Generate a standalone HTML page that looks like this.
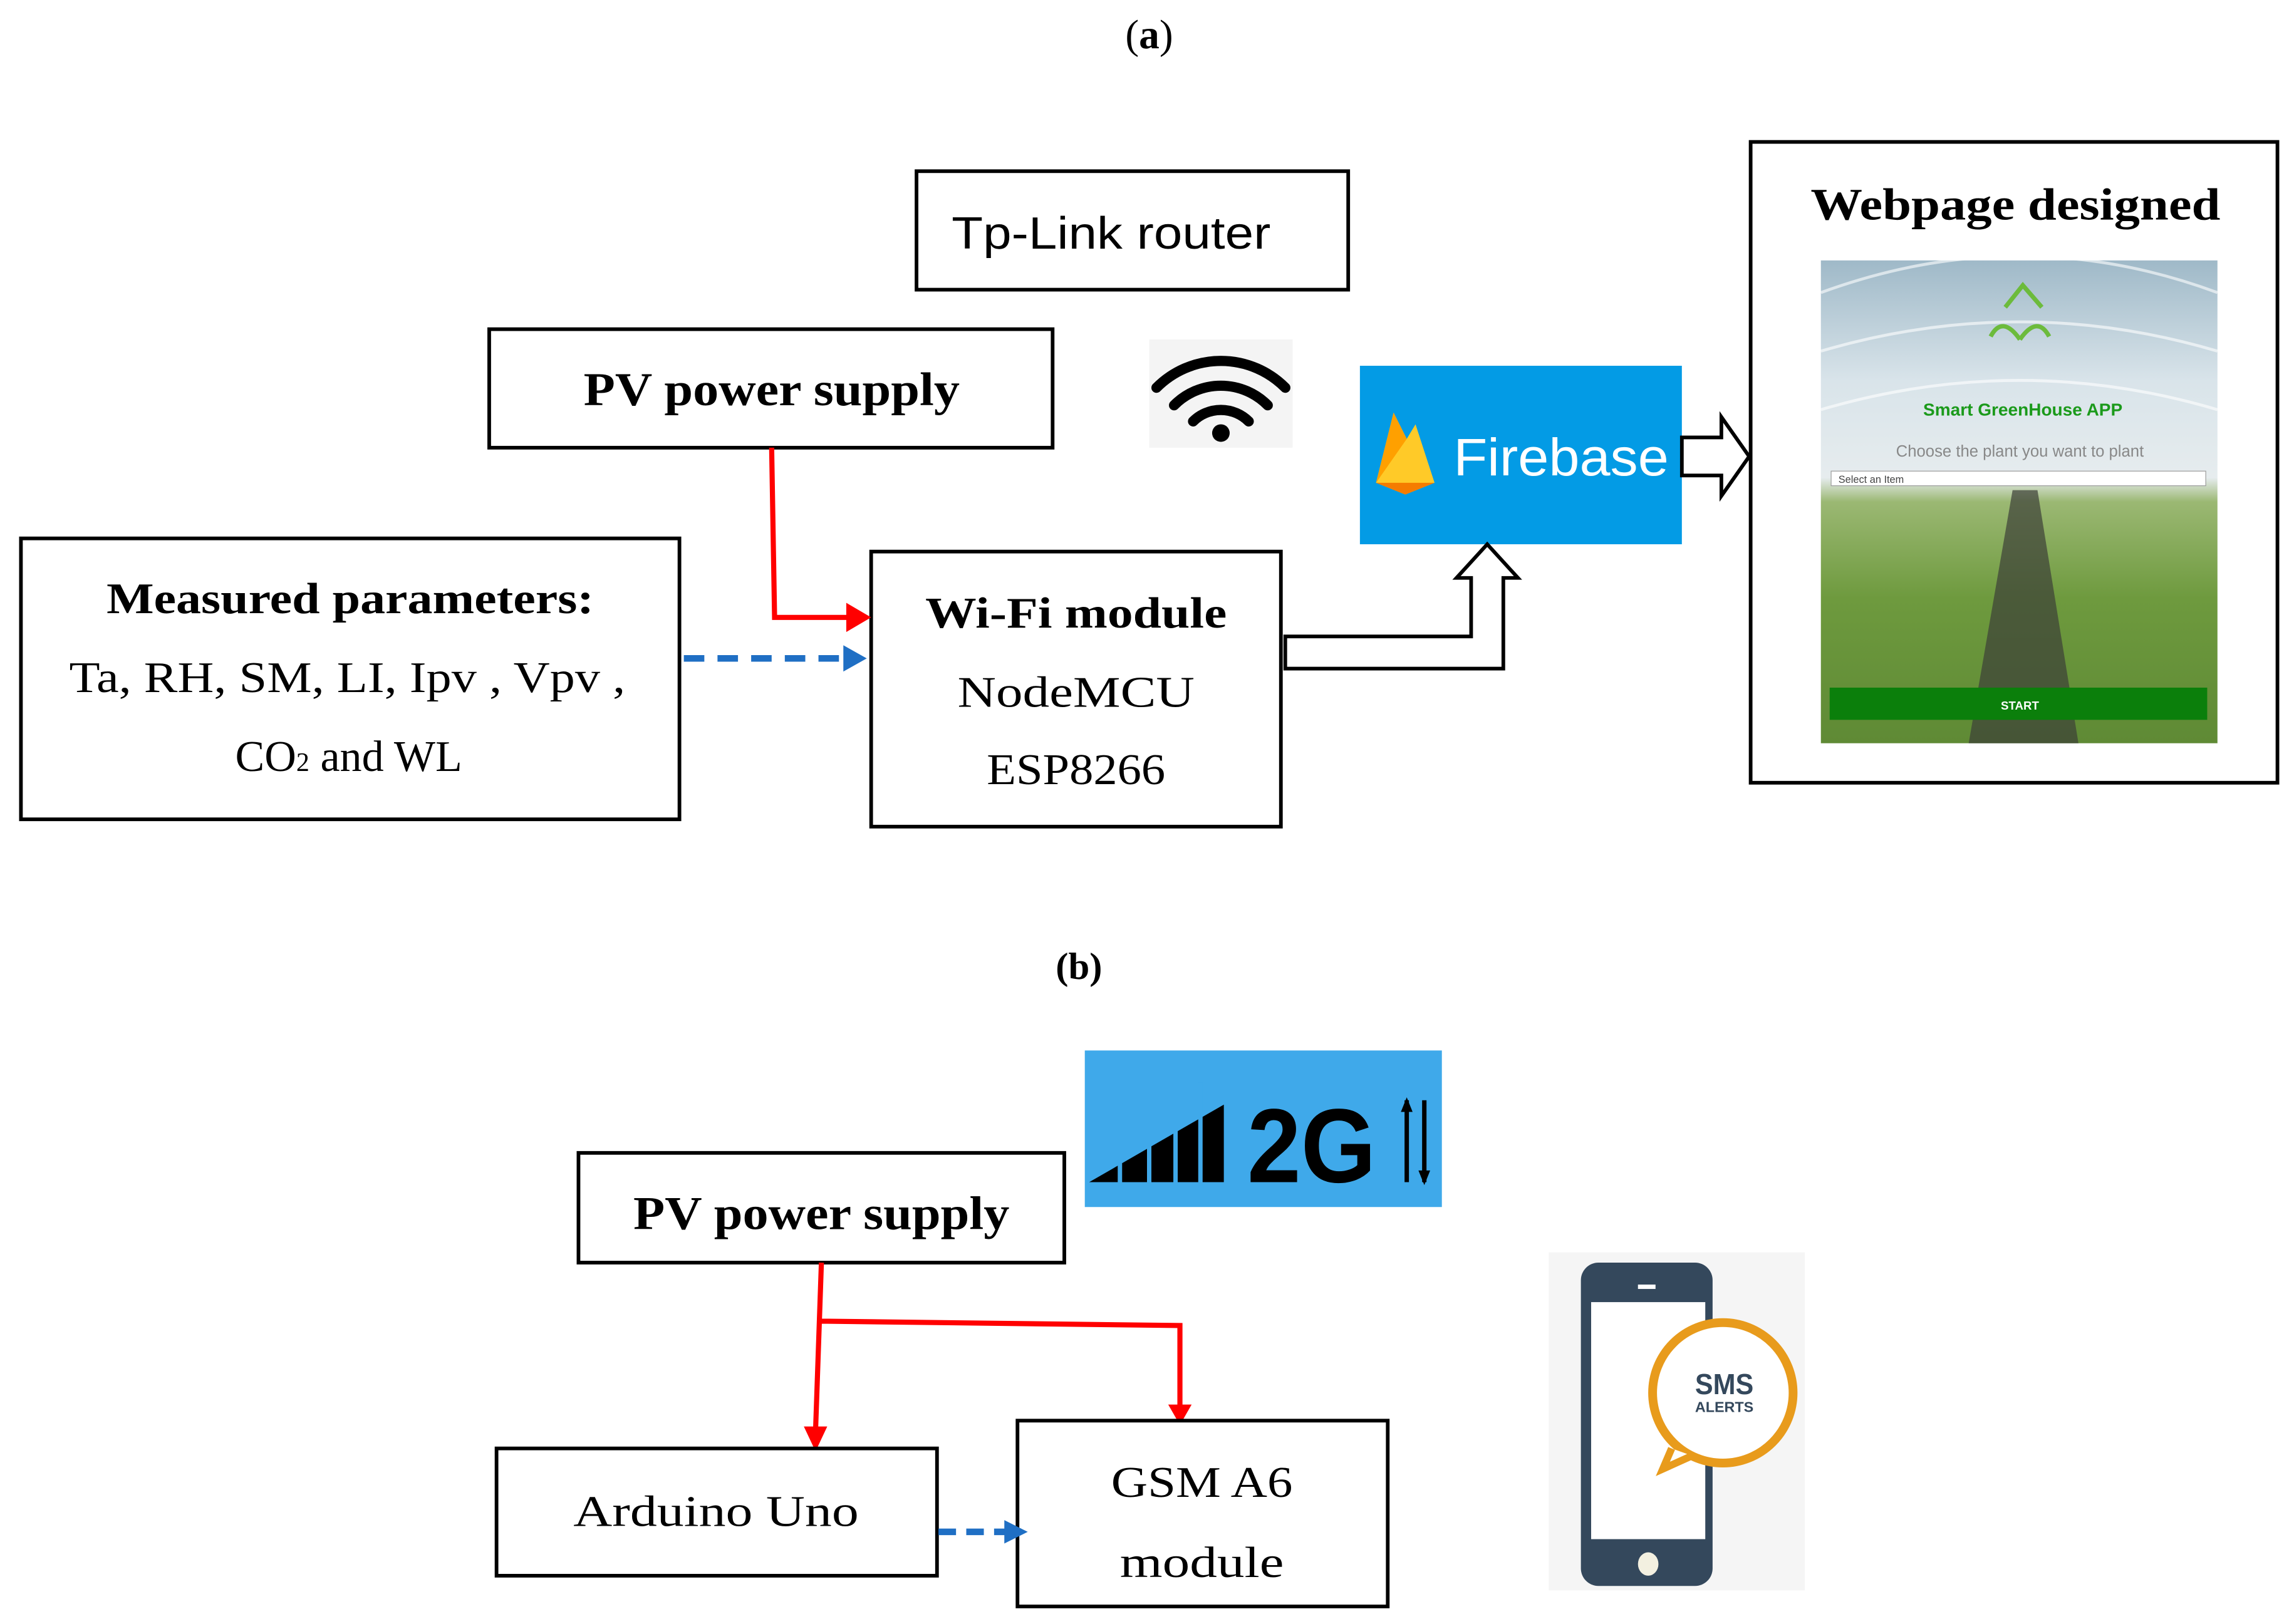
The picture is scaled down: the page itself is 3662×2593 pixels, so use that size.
<!DOCTYPE html>
<html><head><meta charset="utf-8"><style>
html,body{margin:0;padding:0;background:#fff;width:3662px;height:2593px;overflow:hidden}
svg{display:block}
.s{font-family:"Liberation Serif",serif}
.b{font-weight:bold}
</style></head><body>
<svg width="3662" height="2593" viewBox="0 0 1567 1110" xmlns="http://www.w3.org/2000/svg">
<defs>
<linearGradient id="gh" x1="0" y1="0" x2="0" y2="1">
<stop offset="0" stop-color="#9fb9c8"/><stop offset="0.25" stop-color="#d9e4ea"/><stop offset="0.45" stop-color="#e6ecee"/><stop offset="0.5" stop-color="#9bb873"/><stop offset="0.7" stop-color="#6e9a3e"/><stop offset="1" stop-color="#5f8a35"/>
</linearGradient>
</defs>
<text x="785" y="33" text-anchor="middle" class="s" font-size="28">(<tspan class="b">a</tspan>)</text>

<rect x="626" y="117" width="295" height="81" fill="#fff" stroke="#000" stroke-width="2.5"/>
<text x="650" y="170" font-family="Liberation Sans,sans-serif" font-size="31" textLength="218" lengthAdjust="spacingAndGlyphs">Tp-Link router</text>

<rect x="334" y="225" width="385" height="81" fill="#fff" stroke="#000" stroke-width="2.5"/>
<text x="527" y="277" text-anchor="middle" class="s b" font-size="32" textLength="257" lengthAdjust="spacingAndGlyphs">PV power supply</text>

<rect x="785" y="232" width="98" height="74" fill="#f4f4f4"/>
<g fill="none" stroke="#000" stroke-width="7" stroke-linecap="round">
<path d="M790 265 A62 62 0 0 1 878 265"/>
<path d="M802 277 A45 45 0 0 1 866 277"/>
<path d="M815 288 A27 27 0 0 1 853 288"/>
</g>
<circle cx="834" cy="296" r="6" fill="#000"/>

<rect x="929" y="250" width="220" height="122" fill="#039be5"/>
<path d="M940 330 L952 282 L961 300 L967 290 L980 330 L960 338 Z" fill="#ffca28"/>
<path d="M940 330 L952 282 L961 300 Z" fill="#ffa000"/>
<path d="M940 330 L980 330 L960 338 Z" fill="#f57c00"/>
<text x="993" y="325" font-family="Liberation Sans,sans-serif" font-size="36" fill="#fff" textLength="147" lengthAdjust="spacingAndGlyphs">Firebase</text>

<path d="M1149 299 L1176 299 L1176 285 L1195 312 L1176 339 L1176 325 L1149 325 Z" fill="#fff" stroke="#000" stroke-width="2.5"/>

<rect x="1196" y="97" width="360" height="438" fill="#fff" stroke="#000" stroke-width="2.5"/>
<text x="1377" y="150" text-anchor="middle" class="s b" font-size="31" textLength="280" lengthAdjust="spacingAndGlyphs">Webpage designed</text>
<rect x="1244" y="178" width="271" height="330" fill="url(#gh)"/>
<path d="M1244 200 Q1380 150 1515 200 M1244 240 Q1380 200 1515 240 M1244 280 Q1380 240 1515 280" stroke="#fff" stroke-width="2" fill="none" opacity="0.6"/>
<path d="M1375 335 L1392 335 L1420 508 L1345 508 Z" fill="#3c3f38" opacity="0.7"/>
<path d="M1370 210 L1382 195 L1395 210 M1360 230 Q1368 215 1380 232 M1400 230 Q1392 215 1380 232" stroke="#6cbb3c" stroke-width="3" fill="none"/>
<text x="1382" y="284" text-anchor="middle" font-family="Liberation Sans,sans-serif" font-weight="bold" font-size="12" fill="#1b9a1b">Smart GreenHouse APP</text>
<text x="1380" y="312" text-anchor="middle" font-family="Liberation Sans,sans-serif" font-size="11" fill="#888">Choose the plant you want to plant</text>
<rect x="1251" y="322" width="256" height="10" fill="#fff" stroke="#999" stroke-width="0.5"/>
<text x="1256" y="330" font-family="Liberation Sans,sans-serif" font-size="7" fill="#444">Select an Item</text>
<rect x="1250" y="470" width="258" height="22" fill="#0b7f0b"/>
<text x="1380" y="485" text-anchor="middle" font-family="Liberation Sans,sans-serif" font-weight="bold" font-size="8" fill="#fff">START</text>

<rect x="14" y="368" width="450" height="192" fill="#fff" stroke="#000" stroke-width="2.5"/>
<text x="239" y="419" text-anchor="middle" class="s b" font-size="30" textLength="333" lengthAdjust="spacingAndGlyphs">Measured parameters:</text>
<text x="237" y="473" text-anchor="middle" class="s" font-size="30" textLength="380" lengthAdjust="spacingAndGlyphs">Ta, RH, SM, LI, Ipv , Vpv ,</text>
<text x="238" y="527" text-anchor="middle" class="s" font-size="30">CO<tspan font-size="18">2</tspan> and WL</text>

<rect x="595" y="377" width="280" height="188" fill="#fff" stroke="#000" stroke-width="2.5"/>
<text x="735" y="429" text-anchor="middle" class="s b" font-size="30" textLength="206" lengthAdjust="spacingAndGlyphs">Wi-Fi module</text>
<text x="735" y="483" text-anchor="middle" class="s" font-size="30" textLength="162" lengthAdjust="spacingAndGlyphs">NodeMCU</text>
<text x="735" y="536" text-anchor="middle" class="s" font-size="30" textLength="122" lengthAdjust="spacingAndGlyphs">ESP8266</text>

<path d="M527 306 L529 422 L580 422" fill="none" stroke="#f00" stroke-width="3.5"/>
<path d="M578 412 L595 422 L578 432 Z" fill="#f00"/>
<path d="M467 450 L578 450" stroke="#1f6fc4" stroke-width="4.5" stroke-dasharray="14 9"/>
<path d="M576 441 L592 450 L576 459 Z" fill="#1f6fc4"/>

<path d="M878 435 L1005 435 L1005 395 L995 395 L1016 372 L1037 395 L1027 395 L1027 457 L878 457 Z" fill="#fff" stroke="#000" stroke-width="2.5"/>

<text x="737" y="669" text-anchor="middle" class="s b" font-size="26">(b)</text>

<rect x="741" y="718" width="244" height="107" fill="#3fa9ea"/>
<path d="M744 808 L836 755 L836 808 Z" fill="#000"/>
<g stroke="#3fa9ea" stroke-width="3"><line x1="765" y1="760" x2="765" y2="810"/><line x1="785" y1="760" x2="785" y2="810"/><line x1="803" y1="750" x2="803" y2="810"/><line x1="820" y1="740" x2="820" y2="810"/></g>
<text x="852" y="808" font-family="Liberation Sans,sans-serif" font-weight="bold" font-size="72" fill="#000" textLength="88" lengthAdjust="spacingAndGlyphs">2G</text>
<path d="M961 752 L961 808 M973 752 L973 808" stroke="#000" stroke-width="3"/>
<path d="M957 760 L961 750 L965 760 Z M969 800 L973 810 L977 800 Z" fill="#000"/>

<rect x="395" y="788" width="332" height="75" fill="#fff" stroke="#000" stroke-width="2.5"/>
<text x="561" y="840" text-anchor="middle" class="s b" font-size="32" textLength="257" lengthAdjust="spacingAndGlyphs">PV power supply</text>

<path d="M561 863 L557 978 M561 903 L806 906 L806 962" fill="none" stroke="#f00" stroke-width="3.5"/>
<path d="M549 975 L557 992 L565 975 Z M798 960 L806 974 L814 960 Z" fill="#f00"/>

<rect x="339" y="990" width="301" height="87" fill="#fff" stroke="#000" stroke-width="2.5"/>
<text x="489" y="1043" text-anchor="middle" class="s" font-size="30" textLength="195" lengthAdjust="spacingAndGlyphs">Arduino Uno</text>

<rect x="695" y="971" width="253" height="127" fill="#fff" stroke="#000" stroke-width="2.5"/>
<text x="821" y="1023" text-anchor="middle" class="s" font-size="30" textLength="124" lengthAdjust="spacingAndGlyphs">GSM A6</text>
<text x="821" y="1078" text-anchor="middle" class="s" font-size="30" textLength="112" lengthAdjust="spacingAndGlyphs">module</text>

<path d="M641 1047 L688 1047" stroke="#1f6fc4" stroke-width="4.5" stroke-dasharray="12 7"/>
<path d="M686 1039 L702 1047 L686 1055 Z" fill="#1f6fc4"/>

<rect x="1058" y="856" width="175" height="231" fill="#f5f5f5"/>
<rect x="1080" y="863" width="90" height="221" rx="12" fill="#34485c"/>
<rect x="1087" y="890" width="78" height="162" fill="#fff"/>
<rect x="1119" y="878" width="12" height="3" fill="#fff"/>
<ellipse cx="1126" cy="1069" rx="7" ry="8" fill="#f3f0e0"/>
<circle cx="1177" cy="952" r="48" fill="#fff" stroke="#e89b1c" stroke-width="6"/>
<path d="M1142 990 L1136 1004 L1156 995" fill="#fff" stroke="#e89b1c" stroke-width="5"/>
<text x="1178" y="953" text-anchor="middle" font-family="Liberation Sans,sans-serif" font-weight="bold" font-size="20" fill="#34485c" textLength="40" lengthAdjust="spacingAndGlyphs">SMS</text>
<text x="1178" y="965" text-anchor="middle" font-family="Liberation Sans,sans-serif" font-weight="bold" font-size="10" fill="#34485c">ALERTS</text>
</svg>
</body></html>
